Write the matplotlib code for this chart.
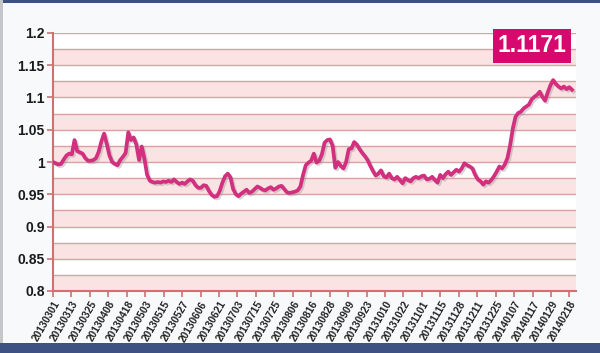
import matplotlib
matplotlib.use("Agg")
import matplotlib.pyplot as plt
import matplotlib.patheffects as pe
from matplotlib.patches import Rectangle

tick_labels = ["20130301", "20130313", "20130325", "20130408", "20130418", "20130503",
               "20130515", "20130527", "20130606", "20130621", "20130703", "20130715",
               "20130725", "20130806", "20130816", "20130828", "20130909", "20130923",
               "20131010", "20131022", "20131101", "20131115", "20131128", "20131211",
               "20131225", "20140107", "20140117", "20140129", "20140218"]

values = [
    1.000, 0.998, 0.996, 0.997, 1.004, 1.010, 1.013, 1.012, 1.034, 1.017,
    1.015, 1.013, 1.006, 1.002, 1.002, 1.003, 1.006, 1.016, 1.032, 1.044,
    1.028, 1.010, 1.000, 0.997, 0.995, 1.003, 1.008, 1.014, 1.046, 1.034,
    1.038, 1.027, 1.003, 1.024, 1.005, 0.980, 0.971, 0.969, 0.968, 0.969,
    0.968, 0.970, 0.969, 0.971, 0.969, 0.973, 0.969, 0.966, 0.968, 0.966,
    0.970, 0.973, 0.971, 0.964, 0.960, 0.960, 0.964, 0.963, 0.955, 0.949,
    0.946, 0.947, 0.955, 0.968, 0.978, 0.982, 0.976, 0.958, 0.950, 0.947,
    0.951, 0.954, 0.957, 0.952, 0.954, 0.958, 0.962, 0.960, 0.957, 0.956,
    0.959, 0.961, 0.957, 0.959, 0.962, 0.963, 0.958, 0.953, 0.952, 0.953,
    0.954, 0.956, 0.962, 0.980, 0.995, 0.999, 1.002, 1.013, 0.999, 1.002,
    1.012, 1.030, 1.034, 1.035, 1.025, 0.991, 1.000, 0.994, 0.990, 1.000,
    1.020, 1.021, 1.031, 1.027, 1.020, 1.014, 1.009, 1.003, 0.994, 0.986,
    0.979, 0.982, 0.987, 0.978, 0.976, 0.982, 0.975, 0.973, 0.977, 0.972,
    0.967, 0.975, 0.972, 0.970, 0.975, 0.977, 0.975, 0.978, 0.979, 0.973,
    0.974, 0.977, 0.972, 0.968, 0.980, 0.975, 0.981, 0.985, 0.980, 0.984,
    0.988, 0.985, 0.990, 0.998, 0.995, 0.993, 0.990, 0.980, 0.973, 0.970,
    0.965, 0.970, 0.968, 0.972, 0.978, 0.985, 0.993, 0.990, 0.996, 1.006,
    1.026, 1.052, 1.070, 1.076, 1.078, 1.083, 1.086, 1.089, 1.097, 1.101,
    1.104, 1.109, 1.101, 1.095, 1.108, 1.119, 1.127, 1.121, 1.117, 1.114,
    1.117, 1.113, 1.116, 1.112,
]
latest_label = "1.1171"
y_ticks = [0.8, 0.85, 0.9, 0.95, 1.0, 1.05, 1.1, 1.15, 1.2]
y_tick_labels = ["0.8", "0.85", "0.9", "0.95", "1", "1.05", "1.1", "1.15", "1.2"]

# samples per tick interval (points are spaced evenly along the date axis)
samples_per_tick = 6.86
x = list(range(len(values)))
tick_pos = [i * samples_per_tick for i in range(len(tick_labels))]

plt.rcParams['font.family'] = ['Liberation Sans', 'DejaVu Sans']

fig = plt.figure(figsize=(6.0, 3.53), dpi=100)
fig.patch.set_facecolor('#f8f9fb')

# decorative frame bars
fig.patches.append(Rectangle((0, 0), 1, 10 / 353, transform=fig.transFigure,
                             facecolor='#3d5282', edgecolor='none', zorder=0))
fig.patches.append(Rectangle((0, 1 - 3 / 353), 1, 3 / 353, transform=fig.transFigure,
                             facecolor='#3d5282', edgecolor='none', zorder=0))
fig.patches.append(Rectangle((0, 10 / 353), 3 / 600, 1, transform=fig.transFigure,
                             facecolor='#c4c6ca', edgecolor='none', zorder=0))

ax = fig.add_axes([53 / 600, 1 - 291 / 353, 523 / 600, 258 / 353])
ax.set_facecolor('white')
ax.set_xlim(0, 194.5)
ax.set_ylim(0.8, 1.2)

# alternating pink bands
for k in range(8):
    lo = 0.8 + k * 0.05
    ax.axhspan(lo, lo + 0.025, facecolor='#fbe2e3', edgecolor='none', zorder=0)
# grid lines every 0.025
for k in range(17):
    yv = 0.8 + k * 0.025
    ax.axhline(yv, color='#d9a3a6', lw=1.0, zorder=1)

ax.plot(x, values, color='#d2307f', lw=2.7, solid_joinstyle='round', zorder=3,
        path_effects=[pe.SimpleLineShadow(offset=(1.2, -1.2), shadow_color='#888888', alpha=0.35),
                      pe.Normal()])

ax.set_yticks(y_ticks)
ax.set_yticklabels(y_tick_labels, fontsize=10, fontweight='bold', color='#1a1a1a')
ax.set_xticks(tick_pos)
ax.set_xticklabels(tick_labels, rotation=60, ha='right', rotation_mode='anchor',
                   fontsize=7.3, fontweight='bold', color='#222222')
ax.tick_params(axis='both', colors='#d07070', length=4, width=1.2)
ax.tick_params(axis='x', labelcolor='#222222', pad=2)
ax.tick_params(axis='y', labelcolor='#1a1a1a', pad=2)

for s in ['top', 'right']:
    ax.spines[s].set_visible(False)
for s in ['left', 'bottom']:
    ax.spines[s].set_color('#d07070')
    ax.spines[s].set_linewidth(1.5)

# latest value badge
fig.text(532 / 600, 1 - 46 / 353, latest_label, ha='center', va='center',
         fontsize=16.5, fontweight='bold', color='white',
         bbox=dict(boxstyle='square,pad=0.22', facecolor='#d6096f', edgecolor='none'))

fig.savefig('out.png', dpi=100, facecolor=fig.get_facecolor())
